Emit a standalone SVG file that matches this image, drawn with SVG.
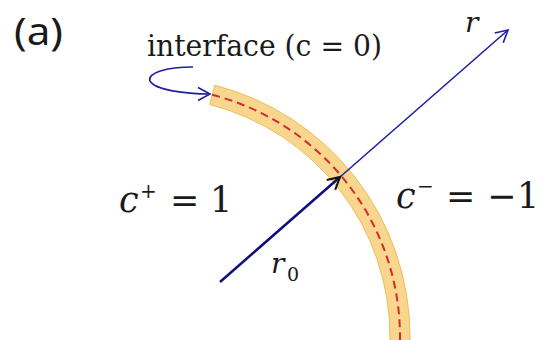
<svg xmlns="http://www.w3.org/2000/svg" width="543" height="340" viewBox="0 0 543 340">
<style>
.serif{font-family:"DejaVu Serif","Liberation Serif",serif;fill:#1a1a1a}
.it{font-style:italic}
.sans{font-family:"Noto Sans","Liberation Sans",sans-serif;fill:#1a1a1a}
.band{fill:#F8D68E;stroke:#EDBE5A;stroke-width:1}
.dash{fill:none;stroke:#D42A2A;stroke-width:2;stroke-dasharray:8 5}
.blue{fill:none;stroke:#1F1FA8;stroke-width:1.6}
.navy{fill:none;stroke:#0E0E7C;stroke-width:2.5}
</style>
<defs>
<marker id="ab" markerUnits="userSpaceOnUse" viewBox="0 0 16 16" refX="14" refY="8" markerWidth="16" markerHeight="16" orient="auto">
<path d="M2,1.5 L14,8 L2,14.5" fill="none" stroke="#1F1FA8" stroke-width="1.6"/>
</marker>
<marker id="ak" markerUnits="userSpaceOnUse" viewBox="0 0 16 16" refX="14" refY="8" markerWidth="16" markerHeight="16" orient="auto">
<path d="M2,1.5 L14,8 L2,14.5" fill="none" stroke="#111" stroke-width="2"/>
</marker>
</defs>
<rect width="543" height="340" fill="#fff"/>
<g id="panel-label"><text class="sans" x="14" y="45" font-size="39" textLength="49" lengthAdjust="spacingAndGlyphs">(a)</text></g>
<g id="interface">
<path class="band" d="M214.7,85.2 A260,260 0 0 1 410,337 L410,342 L390,342 L390,337 A240,240 0 0 0 209.7,104.5 Z"/>
<path class="dash" d="M212.2,94.8 A250,250 0 0 1 400,337 L400,342"/>
</g>
<g id="interface-label"><text class="serif" x="147" y="56" font-size="30" textLength="235" lengthAdjust="spacingAndGlyphs">interface (c = 0)</text></g>
<g id="region-plus"><text class="serif" y="212" font-size="35"><tspan class="it" x="119">c</tspan><tspan x="140" y="198" font-size="20">+</tspan><tspan x="170" y="212">=</tspan><tspan x="210" y="212">1</tspan></text></g>
<g id="region-minus"><text class="serif" y="208" font-size="35"><tspan class="it" x="396">c</tspan><tspan x="417" y="193" font-size="20">−</tspan><tspan x="446" y="208">=</tspan><tspan x="487" y="208">−</tspan><tspan x="517" y="208">1</tspan></text></g>
<g id="r-label"><text class="serif it" x="465" y="32" font-size="28">r</text></g>
<g id="r0-label"><text class="serif" y="273" font-size="28"><tspan class="it" x="271">r</tspan><tspan x="287" y="281" font-size="19">0</tspan></text></g>
<g id="connectors">
<line class="blue" x1="340" y1="177" x2="508" y2="30" marker-end="url(#ab)"/>
<line class="navy" x1="220" y1="282" x2="340" y2="177" marker-end="url(#ak)"/>
<path class="blue" d="M193,67 C166,67 147,73 150,81 C155,90 185,94 210,94" marker-end="url(#ab)"/>
</g>
</svg>
